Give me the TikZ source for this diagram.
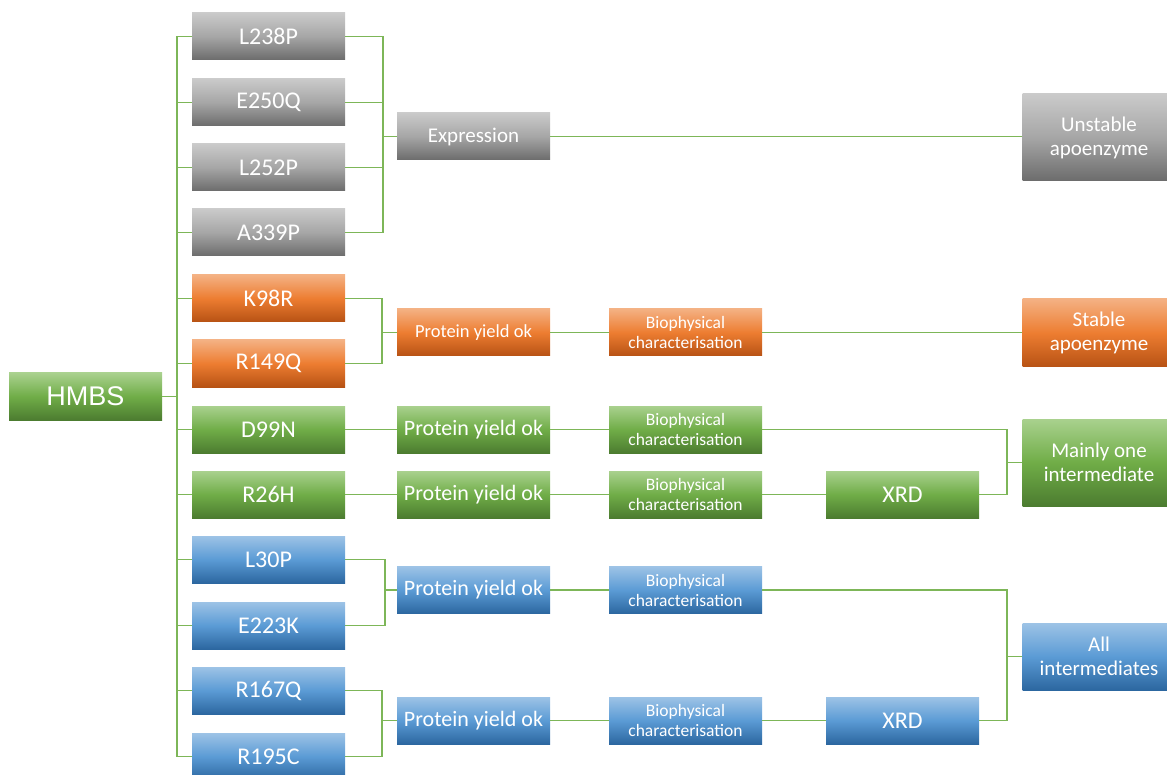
\documentclass[tikz,border=0pt]{standalone}
\usepackage{fontspec}
\setmainfont{Carlito}
\newfontfamily\arialf{Liberation Sans}
\definecolor{grT}{RGB}{202,202,202}
\definecolor{grM}{RGB}{166,166,166}
\definecolor{grB}{RGB}{108,108,108}
\definecolor{orT}{RGB}{244,177,131}
\definecolor{orM}{RGB}{237,125,49}
\definecolor{orB}{RGB}{183,82,20}
\definecolor{gnT}{RGB}{169,209,142}
\definecolor{gnM}{RGB}{112,173,71}
\definecolor{gnB}{RGB}{76,124,48}
\definecolor{blT}{RGB}{157,195,230}
\definecolor{blM}{RGB}{91,155,213}
\definecolor{blB}{RGB}{44,103,160}
\definecolor{lineG}{RGB}{125,182,88}
\tikzset{
  box/.style={draw=none, minimum width=153pt, minimum height=47pt, inner sep=0pt,
    text=white, align=center, font=\fontsize{24}{28}\selectfont},
  graybox/.style={box, top color=grT, bottom color=grB, middle color=grM},
  orangebox/.style={box, top color=orT, bottom color=orB, middle color=orM},
  greenbox/.style={box, top color=gnT, bottom color=gnB, middle color=gnM},
  bluebox/.style={box, top color=blT, bottom color=blB, middle color=blM},
  biotext/.style={font=\fontsize{17.5}{20}\selectfont},
  pyosmall/.style={font=\fontsize{18.5}{22}\selectfont},
  pyobig/.style={font=\fontsize{22}{26}\selectfont},
  restext/.style={font=\fontsize{21}{24}\selectfont},
  link/.style={draw=lineG, line width=1.4pt}
}
\begin{document}
\begin{tikzpicture}[x=1pt,y=-1pt]
\useasboundingbox (0,0) rectangle (1167,775);
% HMBS
\node[greenbox, font=\arialf\fontsize{27}{30}\selectfont] (hmbs) at (85.5,396.5) {HMBS};
% mutations
\node[graybox] (l238p) at (268.5,36.5) {L238P};
\node[graybox] (e250q) at (268.5,102.5) {E250Q};
\node[graybox] (l252p) at (268.5,167.5) {L252P};
\node[graybox] (a339p) at (268.5,232.5) {A339P};
\node[orangebox] (k98r) at (268.5,298.5) {K98R};
\node[orangebox] (r149q) at (268.5,363.5) {R149Q};
\node[greenbox] (d99n) at (268.5,429.5) {D99N};
\node[greenbox] (r26h) at (268.5,494.5) {R26H};
\node[bluebox] (l30p) at (268.5,559.5) {L30P};
\node[bluebox] (e223k) at (268.5,625.5) {E223K};
\node[bluebox] (r167q) at (268.5,690.5) {R167Q};
\node[bluebox] (r195c) at (268.5,756.5) {R195C};
% column 2
\node[graybox, restext] (expr) at (473.5,136.5) {Expression};
\node[orangebox, pyosmall] (pyoO) at (473.5,332.5) {Protein yield ok};
\node[greenbox, pyobig] (pyoG1) at (473.5,429.5) {Protein yield ok};
\node[greenbox, pyobig] (pyoG2) at (473.5,494.5) {Protein yield ok};
\node[bluebox, pyobig] (pyoB1) at (473.5,590) {Protein yield ok};
\node[bluebox, pyobig] (pyoB2) at (473.5,720.5) {Protein yield ok};
% column 3
\node[orangebox, biotext] (bioO) at (685.5,332.5) {Biophysical\\characterisation};
\node[greenbox, biotext] (bioG1) at (685.5,429.5) {Biophysical\\characterisation};
\node[greenbox, biotext] (bioG2) at (685.5,494.5) {Biophysical\\characterisation};
\node[bluebox, biotext] (bioB1) at (685.5,590) {Biophysical\\characterisation};
\node[bluebox, biotext] (bioB2) at (685.5,720.5) {Biophysical\\characterisation};
% XRD
\node[greenbox] (xrdG) at (902.5,494.5) {XRD};
\node[bluebox] (xrdB) at (902.5,720.5) {XRD};
% results
\node[graybox, restext, minimum height=87pt] (unst) at (1099,137.5) {Unstable\\apoenzyme};
\node[orangebox, restext, minimum height=68pt] (stab) at (1099,333) {Stable\\apoenzyme};
\node[greenbox, restext, minimum height=87pt] (mainly) at (1099,462.5) {Mainly one\\intermediate};
\node[bluebox, restext, minimum height=67pt] (allint) at (1099,656.5) {All\\intermediates};
% trunk
\coordinate (tr) at (177,396.5);
\draw[link] (hmbs.east) -- (tr);
\foreach \n in {l238p,e250q,l252p,a339p,k98r,r149q,d99n,r26h,l30p,e223k,r167q,r195c}
  \draw[link] (tr) |- (\n.west);
% gray group
\coordinate (jg) at (383,136.5);
\foreach \n in {l238p,e250q,l252p,a339p}
  \draw[link] (\n.east) -| (jg);
\draw[link] (jg) -- (expr.west);
\draw[link] (expr.east) -- (unst.west |- expr.east);
% orange group
\coordinate (jo) at (382,332.5);
\draw[link] (k98r.east) -| (jo);
\draw[link] (r149q.east) -| (jo);
\draw[link] (jo) -- (pyoO.west);
\draw[link] (pyoO.east) -- (bioO.west);
\draw[link] (bioO.east) -- (stab.west |- bioO.east);
% green
\draw[link] (d99n.east) -- (pyoG1.west);
\draw[link] (pyoG1.east) -- (bioG1.west);
\draw[link] (r26h.east) -- (pyoG2.west);
\draw[link] (pyoG2.east) -- (bioG2.west);
\draw[link] (bioG2.east) -- (xrdG.west);
\coordinate (jm) at (1007,462.5);
\draw[link] (bioG1.east) -| (jm);
\draw[link] (xrdG.east) -| (jm);
\draw[link] (jm) -- (mainly.west);
% blue
\coordinate (jb1) at (385,590);
\draw[link] (l30p.east) -| (jb1);
\draw[link] (e223k.east) -| (jb1);
\draw[link] (jb1) -- (pyoB1.west);
\draw[link] (pyoB1.east) -- (bioB1.west);
\coordinate (jb2) at (382,720.5);
\draw[link] (r167q.east) -| (jb2);
\draw[link] (r195c.east) -| (jb2);
\draw[link] (jb2) -- (pyoB2.west);
\draw[link] (pyoB2.east) -- (bioB2.west);
\draw[link] (bioB2.east) -- (xrdB.west);
\coordinate (ja) at (1007,656.5);
\draw[link] (bioB1.east) -| (ja);
\draw[link] (xrdB.east) -| (ja);
\draw[link] (ja) -- (allint.west);
\end{tikzpicture}
\end{document}
